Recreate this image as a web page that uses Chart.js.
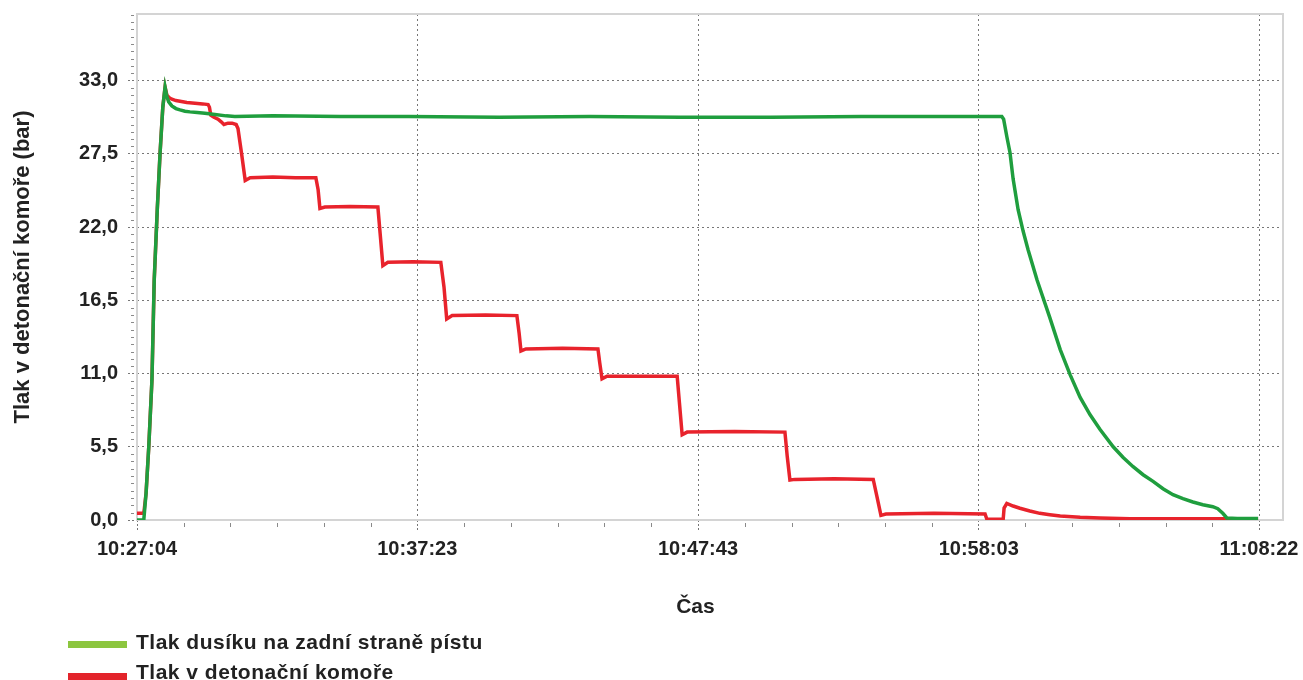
<!DOCTYPE html>
<html>
<head>
<meta charset="utf-8">
<script src="https://cdn.jsdelivr.net/npm/chart.js@4/dist/chart.umd.min.js"></script>
<style>
  html, body { margin: 0; padding: 0; background: #fff; }
  #wrap { position: relative; width: 1303px; height: 680px; overflow: hidden; }
  #c { position: absolute; left: 0; top: 0; }
  .lg { position: absolute; left: 68px; font-family: "Liberation Sans", Arial, sans-serif; font-weight: bold; font-size: 21px; letter-spacing: 0.5px; line-height: 20px; color: #222; white-space: nowrap; }
  .lg .bar { position: absolute; left: 0; width: 59px; height: 7px; }
  .lg .txt { position: absolute; left: 68px; top: 0; }
</style>
</head>
<body>
<div id="wrap">
  <canvas id="c" width="1303" height="680"></canvas>
  <div class="lg" id="lg1" style="top:632px"><div class="bar" style="top:9px;background:#8cc63f"></div><div class="txt">Tlak dusíku na zadní straně pístu</div></div>
  <div class="lg" id="lg2" style="top:662px"><div class="bar" style="top:11px;background:#e3242b"></div><div class="txt">Tlak v detonační komoře</div></div>
</div>
<script>
// ---- data (seconds since 10:27:04, pressure in bar) ----
const seriesNames = ['Tlak dusíku na zadní straně pístu', 'Tlak v detonační komoře'];

const greenTime  = [0, 15, 20, 26, 33, 38, 45, 51, 57, 62, 66, 70, 77, 86, 95, 106, 117, 133, 150, 172, 197, 216, 300, 450, 600, 800, 1000, 1200, 1400, 1600, 1800, 1910, 1914, 1921, 1928, 1935, 1946, 1957, 1968, 1988, 2016, 2039, 2061, 2083, 2105, 2127, 2156, 2178, 2200, 2222, 2244, 2266, 2288, 2310, 2332, 2354, 2376, 2387, 2398, 2407, 2430, 2476];
const greenValue = [0, 0, 2.0, 5.5, 10.5, 18.0, 23.5, 27.6, 31.0, 32.5, 31.8, 31.4, 31.1, 30.9, 30.8, 30.7, 30.65, 30.6, 30.55, 30.45, 30.35, 30.3, 30.35, 30.3, 30.3, 30.25, 30.3, 30.25, 30.25, 30.3, 30.3, 30.3, 30.1, 28.8, 27.6, 25.6, 23.3, 21.7, 20.3, 18.0, 15.2, 12.8, 10.9, 9.2, 7.9, 6.8, 5.5, 4.7, 4.0, 3.4, 2.9, 2.35, 1.9, 1.6, 1.35, 1.15, 1.0, 0.85, 0.5, 0.15, 0.12, 0.12];

const redTime  = [0, 11, 15, 20, 26, 33, 38, 45, 51, 57, 62, 66, 72, 77, 86, 95, 110, 128, 145, 157, 160, 163, 170, 179, 186, 192, 201, 210, 219, 223, 231, 239, 250, 300, 350, 395, 400, 404, 415, 470, 532, 537, 543, 554, 610, 671, 678, 684, 696, 770, 839, 844, 848, 859, 940, 1018, 1022, 1027, 1038, 1110, 1193, 1198, 1204, 1215, 1320, 1431, 1436, 1442, 1453, 1540, 1626, 1634, 1643, 1654, 1760, 1873, 1877, 1910, 1913, 1915, 1921, 1935, 1950, 1972, 1994, 2016, 2039, 2083, 2127, 2193, 2300, 2407, 2476];
const redValue = [0.5, 0.5, 0.5, 2.0, 5.5, 10.5, 18.0, 23.5, 27.6, 31.0, 32.5, 31.9, 31.7, 31.6, 31.5, 31.45, 31.35, 31.3, 31.25, 31.2, 31.0, 30.4, 30.25, 30.1, 29.9, 29.7, 29.8, 29.8, 29.7, 29.4, 27.5, 25.5, 25.7, 25.75, 25.7, 25.7, 24.8, 23.4, 23.5, 23.55, 23.5, 21.5, 19.1, 19.35, 19.4, 19.35, 17.5, 15.1, 15.35, 15.4, 15.35, 14.0, 12.7, 12.85, 12.9, 12.85, 11.8, 10.6, 10.8, 10.8, 10.8, 8.8, 6.4, 6.6, 6.65, 6.6, 4.8, 3.0, 3.05, 3.1, 3.05, 1.8, 0.35, 0.45, 0.5, 0.45, 0.05, 0.05, 0.05, 0.9, 1.25, 1.05, 0.88, 0.68, 0.5, 0.4, 0.3, 0.2, 0.15, 0.1, 0.1, 0.1, 0.1];

// ---- axes ----
const xTickSeconds = [0, 619, 1239, 1859, 2478];
const xTickLabels  = ['10:27:04', '10:37:23', '10:47:43', '10:58:03', '11:08:22'];
const xMin = 0, xMax = 2531;
const yTickValues = [0, 5.5, 11, 16.5, 22, 27.5, 33];
const yTickLabels = ['0,0', '5,5', '11,0', '16,5', '22,0', '27,5', '33,0'];
const yMin = 0, yMax = 38;
const xMinorPerMajor = 6;
const yMinorPerMajor = 10;

// minor tick values between the majors
const xMinor = [];
for (let i = 0; i < xTickSeconds.length - 1; i++) {
  const a = xTickSeconds[i], b = xTickSeconds[i + 1];
  for (let k = 1; k < xMinorPerMajor; k++) xMinor.push(a + (b - a) * k / xMinorPerMajor);
}
const yMinor = [];
const yStep = yTickValues[1] - yTickValues[0];
for (let v = 0; v < yMax - 0.01; v += yStep / yMinorPerMajor) {
  const r = Math.round(v * 100) / 100;
  if (!yTickValues.some(t => Math.abs(t - r) < 1e-6)) yMinor.push(r);
}

const toXY = (ts, vs) => ts.map((t, i) => ({ x: t, y: vs[i] }));

const FONT = '"Liberation Sans", Arial, sans-serif';

const framePlugin = {
  id: 'frame',
  beforeDatasetsDraw(chart) {
    const { ctx, chartArea: a, scales: { x, y } } = chart;
    ctx.save();
    ctx.strokeStyle = '#d4d4d4';
    ctx.lineWidth = 2;
    ctx.strokeRect(a.left, a.top, a.right - a.left, a.bottom - a.top);
    ctx.strokeStyle = '#8a8a8a';
    ctx.lineWidth = 1;
    xMinor.forEach(v => {
      const px = Math.round(x.getPixelForValue(v)) + 0.5;
      ctx.beginPath(); ctx.moveTo(px, a.bottom + 3); ctx.lineTo(px, a.bottom + 7); ctx.stroke();
    });
    yMinor.forEach(v => {
      const py = Math.round(y.getPixelForValue(v)) + 0.5;
      ctx.beginPath(); ctx.moveTo(a.left - 6, py); ctx.lineTo(a.left - 3, py); ctx.stroke();
    });
    ctx.restore();
  }
};

new Chart(document.getElementById('c'), {
  type: 'line',
  data: {
    datasets: [
      { label: seriesNames[0], data: toXY(greenTime, greenValue), borderColor: '#1f9e3e', backgroundColor: '#8cc63f', borderWidth: 3.5, pointRadius: 0, tension: 0, fill: false },
      { label: seriesNames[1], data: toXY(redTime, redValue), borderColor: '#e8232c', backgroundColor: '#e3242b', borderWidth: 3.5, pointRadius: 0, tension: 0, fill: false }
    ]
  },
  options: {
    responsive: false,
    animation: false,
    devicePixelRatio: 1,
    layout: { padding: { left: 0, right: 20, top: 14, bottom: 50 } },
    plugins: { legend: { display: false }, tooltip: { enabled: false } },
    scales: {
      x: {
        type: 'linear', min: xMin, max: xMax,
        afterFit(s) { s.height = 110; s.paddingLeft = 0; s.paddingRight = 0; },
        afterBuildTicks(s) { s.ticks = xTickSeconds.map(v => ({ value: v })); },
        ticks: {
          autoSkip: false, maxRotation: 0, minRotation: 0, padding: 7,
          color: '#222', font: { family: FONT, size: 20, weight: 'bold' },
          callback: (v, i) => xTickLabels[i]
        },
        grid: { color: '#777', lineWidth: 1, tickLength: 10, tickColor: '#777', tickBorderDash: [2, 2], drawTicks: true },
        border: { display: false, dash: [2, 3] },
        title: { display: true, text: 'Čas\u00a0\u00a0\u00a0\u00a0\u00a0', color: '#222', font: { family: FONT, size: 21, weight: 'bold' }, padding: { top: 0, bottom: 10 } }
      },
      y: {
        type: 'linear', min: yMin, max: yMax,
        afterFit(s) { s.width = 137; s.paddingTop = 0; s.paddingBottom = 0; },
        afterBuildTicks(s) { s.ticks = yTickValues.map(v => ({ value: v })); },
        ticks: {
          autoSkip: false, padding: 10,
          color: '#222', font: { family: FONT, size: 20, weight: 'bold' },
          callback: (v, i) => yTickLabels[i]
        },
        grid: { color: '#777', lineWidth: 1, tickLength: 9, tickColor: '#777', tickBorderDash: [2, 2], drawTicks: true },
        border: { display: false, dash: [2, 3] },
        title: { display: true, text: 'Tlak v detonační komoře (bar)', color: '#222', font: { family: FONT, size: 22, weight: 'bold' }, padding: { top: 10, bottom: 0 } }
      }
    }
  },
  plugins: [framePlugin]
});
</script>
</body>
</html>
